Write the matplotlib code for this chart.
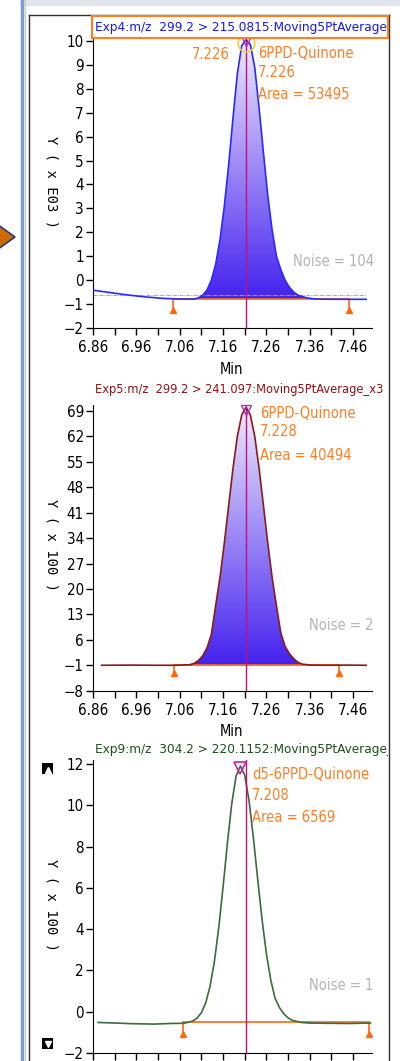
import numpy as np
import matplotlib
matplotlib.use("Agg")
import matplotlib.pyplot as plt
from matplotlib import font_manager as fm
from matplotlib.colors import LinearSegmentedColormap
from matplotlib.lines import Line2D
from matplotlib.patches import Rectangle, Polygon
from matplotlib.transforms import Bbox, TransformedBbox

# ---- data ----
x_ticks = [6.86, 6.96, 7.06, 7.16, 7.26, 7.36, 7.46]
x_minor = [6.91, 7.01, 7.11, 7.21, 7.31, 7.41]
expected_rt = 7.212

# Exp4 (x E03)
p1_x = [6.860, 6.900, 6.940, 6.980, 7.020, 7.060, 7.093, 7.103, 7.113, 7.123,
        7.133, 7.143, 7.153, 7.163, 7.173, 7.183, 7.193, 7.203, 7.213, 7.223,
        7.233, 7.243, 7.253, 7.263, 7.273, 7.283, 7.293, 7.303, 7.313, 7.323,
        7.333, 7.353, 7.373, 7.420, 7.490]
p1_y = [-0.42, -0.52, -0.62, -0.70, -0.76, -0.79, -0.79, -0.74, -0.63, -0.41,
        0.00, 0.67, 1.70, 3.11, 4.85, 6.80, 8.65, 9.80, 10.05, 9.85,
        8.90, 7.20, 5.35, 3.55, 2.11, 1.01, 0.45, 0.00, -0.30, -0.50,
        -0.63, -0.74, -0.79, -0.80, -0.80]
p1_base = (7.045, 7.451, -0.80)
p1_noise_level = -0.60
p1_yticks = list(range(-2, 11))

# Exp5 (x 100)
p2_x = [6.880, 6.950, 7.000, 7.050, 7.083, 7.093, 7.103, 7.113, 7.123, 7.133,
        7.143, 7.153, 7.163, 7.173, 7.183, 7.193, 7.203, 7.213, 7.223, 7.233,
        7.243, 7.253, 7.263, 7.273, 7.283, 7.293, 7.303, 7.313, 7.323, 7.333,
        7.343, 7.363, 7.400, 7.450, 7.490]
p2_y = [-1.00, -0.95, -1.00, -1.00, -0.85, -0.50, 0.30, 1.60, 3.80, 7.50,
        15.5, 23.3, 32.75, 43.1, 53.3, 62.05, 67.9, 70.0, 67.9, 62.05,
        53.3, 43.1, 32.75, 23.3, 15.5, 8.0, 4.2, 2.2, 0.8, -0.2,
        -0.7, -0.95, -1.00, -0.95, -1.00]
p2_base = (7.047, 7.428, -1.0)
p2_yticks = [-8, -1, 6, 13, 20, 27, 34, 41, 48, 55, 62, 69]

# Exp9 (x 100)
p3_x = [6.872, 6.900, 6.950, 7.000, 7.040, 7.070, 7.080, 7.090, 7.100, 7.110,
        7.120, 7.130, 7.140, 7.150, 7.160, 7.170, 7.180, 7.190, 7.200, 7.210,
        7.220, 7.230, 7.240, 7.250, 7.260, 7.270, 7.280, 7.290, 7.300, 7.310,
        7.320, 7.340, 7.360, 7.400, 7.450, 7.500]
p3_y = [-0.52, -0.54, -0.58, -0.60, -0.57, -0.56, -0.51, -0.45, -0.31, -0.05,
        0.43, 1.23, 2.43, 4.07, 6.05, 8.16, 10.07, 11.41, 11.90, 11.45,
        10.21, 8.41, 6.39, 4.45, 2.79, 1.53, 0.65, 0.20, -0.10, -0.30,
        -0.42, -0.52, -0.55, -0.56, -0.57, -0.55]
p3_base = (7.067, 7.497, -0.52)
p3_yticks = [-2, 0, 2, 4, 6, 8, 10, 12]

# ---- pick a narrow sans font if one is installed ----
narrow_path = None
for e in fm.fontManager.ttflist:
    if e.name in ("Liberation Sans Narrow", "Arial Narrow") and e.weight in ("normal", 400) \
            and e.style == "normal":
        narrow_path = e.fname
        break
if narrow_path is None:
    for fam in ("DejaVu Sans", "Noto Sans", "Open Sans", "Roboto", "Lato", "Inter"):
        for e in fm.fontManager.ttflist:
            if (e.name == fam or e.name.startswith(fam + " ")) and e.stretch in ("condensed", "semi-condensed") \
                    and e.weight in ("normal", 400, "regular") and e.style == "normal":
                narrow_path = e.fname
                break
        if narrow_path:
            break

if narrow_path:
    base_fp = dict(fname=narrow_path)
    FS = 9.7
else:
    base_fp = dict(family=["Liberation Sans", "DejaVu Sans"])
    FS = 9.8


def fp(size=None):
    return fm.FontProperties(size=size or FS, **base_fp)


W, H = 400, 1061
fig = plt.figure(figsize=(W / 100, H / 100), dpi=100)
fig.patch.set_facecolor("white")


def fx(px):
    return px / W


def fy(py):
    return 1 - py / H


ORANGE = "#ff6a10"
ANNOT = "#ff7f27"
PINK = "#c0107a"
grad_cmap = LinearSegmentedColormap.from_list(
    "peak", [(0, "#4422ee"), (0.4, "#8a74f4"), (1, "#efeafd")])


def make_axes(top, bottom, ylim, yticks, xlabels=True):
    ax = fig.add_axes([fx(93), fy(bottom), (372 - 93) / W, (bottom - top) / H])
    ax.set_xlim(6.86, 7.5035)
    ax.set_ylim(*ylim)
    ax.set_xticks(x_ticks)
    ax.set_xticks(x_minor, minor=True)
    ax.set_xticklabels([f"{t:.2f}" for t in x_ticks])
    ax.set_yticks(yticks)
    for s in ["top", "right"]:
        ax.spines[s].set_visible(False)
    ax.tick_params(axis="both", which="both", direction="out", length=5, width=1,
                   colors="black")
    ax.tick_params(axis="y", pad=1.5)
    ax.tick_params(axis="x", pad=3.5, labelbottom=xlabels)
    for lab in ax.get_xticklabels() + ax.get_yticklabels():
        lab.set_fontproperties(fp(FS + 1.2))
    ax.set_facecolor("none")
    return ax


def peak_fill(ax, x, y, base):
    x = np.array(x)
    y = np.array(y)
    b0, b1, lvl = base
    m = (x >= b0) & (x <= b1)
    poly = ax.fill_between(x[m], y[m], lvl, facecolor="none", edgecolor="none")
    path = poly.get_paths()[0]
    grad = np.linspace(0, 1, 256).reshape(-1, 1)
    im = ax.imshow(grad, cmap=grad_cmap, origin="lower", aspect="auto",
                   extent=[b0, b1, lvl, y.max()], zorder=1)
    im.set_clip_path(path, transform=ax.transData)


def baseline_marks(ax, base, tri_y):
    b0, b1, lvl = base
    ax.plot([b0, b1], [lvl, lvl], color=ORANGE, lw=1.2, zorder=3)
    ax.vlines([b0, b1], tri_y, lvl, color=ORANGE, lw=1.2, zorder=3)
    ax.plot([b0, b1], [tri_y, tri_y], ls="none", marker="^", ms=5, color=ORANGE,
            zorder=3, clip_on=False)


clip_box = TransformedBbox(Bbox([[0, 0], [fx(388), 1]]), fig.transFigure)


def title(py, text, color, size=None):
    t = fig.text(fx(95), fy(py), text, color=color, fontproperties=fp(size), va="center", ha="left")
    t.set_clip_box(clip_box)
    t.set_clip_on(True)


def ftext(px, py, text, color, ha="left", size=None):
    fig.text(fx(px), fy(py), text, color=color, fontproperties=fp(size or FS + 0.8),
             va="center", ha=ha)


def ylab(py, text):
    fig.text(fx(51), fy(py), text, rotation=-90, va="center", ha="center",
             family="DejaVu Sans Mono", fontsize=10, color="black")


# ---- panel 1 ----
ax1 = make_axes(35, 328, (-2, 10.25), p1_yticks)
peak_fill(ax1, p1_x, p1_y, p1_base)
ax1.plot([6.86, 7.49], [p1_noise_level, p1_noise_level], color="#a8a8a8", lw=0.8,
         ls=(0, (3, 1, 1, 1)), zorder=2)
ax1.plot(p1_x, p1_y, color="#2a2aff", lw=1.2, zorder=4)
baseline_marks(ax1, p1_base, -1.25)
ax1.axvline(expected_rt, color=PINK, lw=1, zorder=5)
i1 = int(np.argmax(p1_y))
ax1.plot(p1_x[i1], p1_y[i1] - 0.15, marker="o", ms=12, mfc="none", mec="#f2d040",
         mew=1.2, clip_on=False, zorder=6)
ax1.plot(p1_x[i1], p1_y[i1] - 0.05, marker="v", ms=7, mfc="none", mec="#b030c0",
         mew=1, clip_on=False, zorder=7)
fig.add_artist(Rectangle((fx(92), fy(38)), (388 - 92) / W, 22 / H, transform=fig.transFigure,
                         facecolor="white", edgecolor="#ff8020", lw=1.5, zorder=3))
title(28, "Exp4:m/z  299.2 > 215.0815:Moving5PtAverage", "#1a1ae0")
ftext(230, 54.5, "7.226", ANNOT, ha="right")
ftext(258, 54, "6PPD-Quinone", ANNOT)
ftext(258, 72.5, "7.226", ANNOT)
ftext(258, 94.5, "Area = 53495", ANNOT)
ftext(293, 261, "Noise = 104", "#b4b4b4")
ylab(182, "Y ( x E03 )")
ftext(232, 369, "Min", "black", ha="center")

# ---- panel 2 ----
ax2 = make_axes(405, 690.7, (-8, 70.65), p2_yticks)
peak_fill(ax2, p2_x, p2_y, p2_base)
ax2.plot([6.88, 7.49], [-1.0, -1.0], color="#c08080", lw=0.8, ls=(0, (3, 1, 1, 1)), zorder=2)
ax2.plot(p2_x, p2_y, color="#8b1a1a", lw=1.2, zorder=4)
baseline_marks(ax2, p2_base, -3.2)
ax2.axvline(expected_rt, color=PINK, lw=1, zorder=5)
i2 = int(np.argmax(p2_y))
ax2.plot(p2_x[i2], p2_y[i2] - 0.8, marker="v", ms=7, mfc="none", mec="#b030c0",
         mew=1, clip_on=False, zorder=7)
title(390, "Exp5:m/z  299.2 > 241.097:Moving5PtAverage_x3", "#8b1414", FS * 0.95)
ftext(260, 413, "6PPD-Quinone", ANNOT)
ftext(260, 432, "7.228", ANNOT)
ftext(260, 455, "Area = 40494", ANNOT)
ftext(309, 626, "Noise = 2", "#b4b4b4")
ylab(545, "Y ( x 100 )")
ftext(232, 731, "Min", "black", ha="center")

# ---- panel 3 (its tick labels fall below the picture) ----
ax3 = make_axes(760, 1053, (-2, 12.19), p3_yticks, xlabels=False)
ax3.plot(p3_x, p3_y, color="#3d6b3d", lw=1.2, zorder=4)
baseline_marks(ax3, p3_base, -1.08)
ax3.axvline(expected_rt, color=PINK, lw=1, zorder=5)
i3 = int(np.argmax(p3_y))
ax3.plot(p3_x[i3], p3_y[i3] - 0.1, marker="v", ms=8, mfc="none", mec="#d020a0",
         mew=1.2, clip_on=False, zorder=7)
title(750, "Exp9:m/z  304.2 > 220.1152:Moving5PtAverage_", "#1f4f1f")
ftext(252, 774.5, "d5-6PPD-Quinone", ANNOT)
ftext(252, 795.5, "7.208", ANNOT)
ftext(252, 817, "Area = 6569", ANNOT)
ftext(309, 985, "Noise = 1", "#b4b4b4")
ylab(905, "Y ( x 100 )")


# ---- window frame and decorations ----
def fline(xs, ys, **kw):
    fig.add_artist(Line2D([fx(v) for v in xs], [fy(v) for v in ys],
                          transform=fig.transFigure, **kw))


fig.add_artist(Rectangle((fx(20), fy(6)), 380 / W, 6 / H, transform=fig.transFigure,
                         facecolor="#e2e6ec", edgecolor="none"))
fline([22, 22], [0, H], color="#7f9fd0", lw=2.5)
fline([25, 25], [0, H], color="#c8d2c0", lw=1)
fline([29, 29], [15, H], color="#303030", lw=1)
fline([29, 389], [15, 15], color="#303030", lw=1)
fline([389, 389], [15, H], color="#303030", lw=1)
fig.add_artist(Polygon([(fx(-6), fy(222)), (fx(15), fy(237)), (fx(-6), fy(252))],
                       closed=True, transform=fig.transFigure, facecolor="#d06a08",
                       edgecolor="#2a3a6a", lw=1.2))
for cy, mk in [(768.5, "^"), (1043, "v")]:
    fig.add_artist(Rectangle((fx(42), fy(cy + 5.5)), 11 / W, 11 / H, transform=fig.transFigure,
                             facecolor="black", edgecolor="none"))
    fig.add_artist(Line2D([fx(47.5)], [fy(cy + 1)], marker=mk, ms=4, color="white",
                          transform=fig.transFigure))

plt.savefig("out.png", dpi=100)
